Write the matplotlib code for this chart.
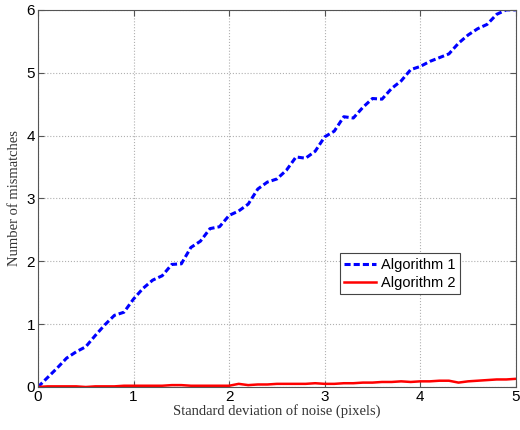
import matplotlib
matplotlib.use('Agg')
import matplotlib.pyplot as plt
import numpy as np

# noise standard deviation (pixels)
noise_std = np.round(np.arange(0, 5.01, 0.1), 1)

# number of mismatches
algo1 = [0.00, 0.15, 0.30, 0.46, 0.56, 0.64, 0.82, 0.99, 1.14, 1.19,
         1.40, 1.57, 1.70, 1.77, 1.95, 1.96, 2.22, 2.32, 2.52, 2.55,
         2.73, 2.80, 2.91, 3.15, 3.26, 3.31, 3.45, 3.66, 3.64, 3.75,
         3.98, 4.07, 4.30, 4.28, 4.45, 4.59, 4.58, 4.75, 4.87, 5.05,
         5.10, 5.18, 5.24, 5.30, 5.47, 5.60, 5.70, 5.77, 5.93, 6.00,
         6.00]
algo2 = [0.00, 0.01, 0.01, 0.01, 0.01, 0.00, 0.01, 0.01, 0.01, 0.02,
         0.02, 0.02, 0.02, 0.02, 0.03, 0.03, 0.02, 0.02, 0.02, 0.02,
         0.02, 0.05, 0.03, 0.04, 0.04, 0.05, 0.05, 0.05, 0.05, 0.06,
         0.05, 0.05, 0.06, 0.06, 0.07, 0.07, 0.08, 0.08, 0.09, 0.08,
         0.09, 0.09, 0.10, 0.10, 0.07, 0.09, 0.10, 0.11, 0.12, 0.12,
         0.13]

fig = plt.figure(figsize=(5.2, 4.3), dpi=100)
ax = fig.add_axes([0.073, 0.100, 0.919, 0.877])

ax.plot(noise_std, algo1, color='#0000ff', linestyle='--', linewidth=2.2,
        dashes=(2, 1), label='Algorithm 1')
ax.plot(noise_std, algo2, color='#ff0000', linestyle='-', linewidth=1.8,
        label='Algorithm 2')

ax.set_xlim(0, 5)
ax.set_ylim(0, 6)
ax.set_xticks(range(6))
ax.set_yticks(range(7))
ax.grid(True, linestyle=':', color='#b0b0b0', linewidth=0.8)
ax.tick_params(direction='in', top=True, right=True, length=4, pad=2,
               labelsize=11, color='#555555')
for lbl in ax.get_xticklabels() + ax.get_yticklabels():
    lbl.set_family('Liberation Sans')
for s in ax.spines.values():
    s.set_color('#555555')

ax.set_xlabel('Standard deviation of noise (pixels)', family='Liberation Serif',
              fontsize=10.5, color='#333333', labelpad=0)
ax.set_ylabel('Number of mismatches', family='Liberation Serif',
              fontsize=10.5, color='#333333', labelpad=4)

leg = ax.legend(loc='center left', bbox_to_anchor=(0.632, 0.30),
                prop={'family': 'Liberation Sans', 'size': 10.5},
                fancybox=False, framealpha=1, edgecolor='#444444',
                handlelength=2.2, borderpad=0.3, labelspacing=0.3,
                handletextpad=0.3, borderaxespad=0)
leg.get_frame().set_linewidth(0.8)

plt.savefig('out.png', dpi=100)
plt.close()
